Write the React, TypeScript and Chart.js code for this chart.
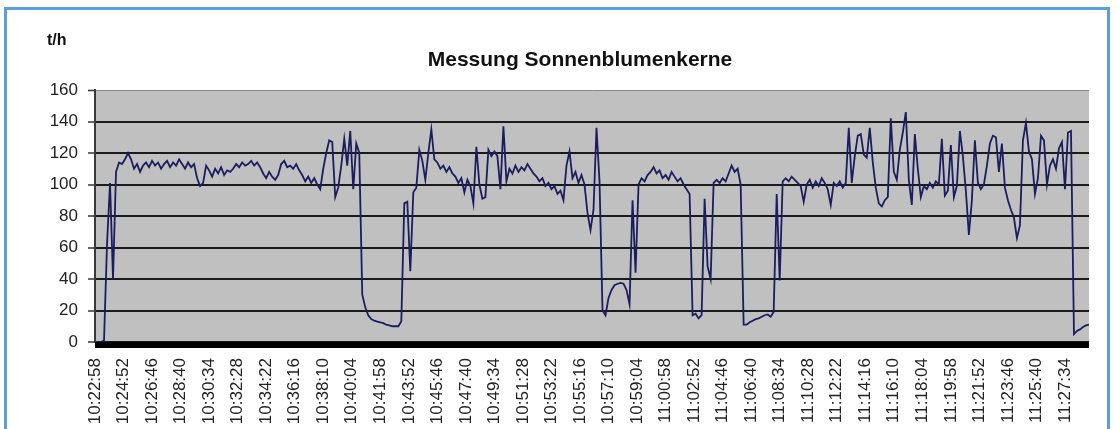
import React, { useEffect, useRef } from "react";
import { Chart, registerables } from "chart.js";

Chart.register(...registerables);

const chartTitle = "Messung Sonnenblumenkerne";
const unitLabel = "t/h";
const startTime = "10:22:58";
const sampleSeconds = 12;

const tickLabels = [
  "10:22:58", "10:24:52", "10:26:46", "10:28:40", "10:30:34", "10:32:28", "10:34:22",
  "10:36:16", "10:38:10", "10:40:04", "10:41:58", "10:43:52", "10:45:46", "10:47:40",
  "10:49:34", "10:51:28", "10:53:22", "10:55:16", "10:57:10", "10:59:04", "11:00:58",
  "11:02:52", "11:04:46", "11:06:40", "11:08:34", "11:10:28", "11:12:22", "11:14:16",
  "11:16:10", "11:18:04", "11:19:58", "11:21:52", "11:23:46", "11:25:40", "11:27:34",
];

const yTicks = [0, 20, 40, 60, 80, 100, 120, 140, 160];

// t/h, one reading every 12 s from 10:22:58
const throughput = [
  0, 0, 0, 1, 62, 101, 40, 108, 114, 113,
  116, 120, 116, 110, 113, 108, 112, 114, 111, 115,
  112, 114, 110, 113, 115, 111, 114, 112, 116, 113,
  110, 114, 111, 113, 104, 99, 101, 112, 109, 105,
  110, 107, 111, 106, 109, 108, 110, 113, 111, 114,
  112, 113, 115, 112, 114, 111, 107, 104, 108, 105,
  103, 106, 113, 115, 111, 112, 110, 113, 109, 106,
  102, 105, 101, 104, 100, 97, 110, 120, 128, 127,
  92, 98, 112, 129, 112, 134, 97, 126, 120, 30,
  22, 17, 14.5, 13.5, 13, 12.5, 12, 11, 10.5, 10,
  10, 10, 13, 88, 89, 45, 95, 98, 122, 115,
  103, 120, 135, 116, 114, 110, 112, 108, 111, 107,
  105, 101, 104, 95, 103, 99, 88, 124, 100, 91,
  92, 122, 118, 121, 118, 97, 137, 102, 110, 107,
  112, 108, 111, 109, 113, 110, 107, 105, 102, 104,
  99, 101, 97, 99, 94, 96, 90, 112, 121, 104,
  108, 101, 106, 100, 82, 71, 84, 136, 102, 20,
  17, 28, 33, 36, 37, 37.5, 37, 33, 24, 90,
  44, 100, 104, 102, 106, 108, 111, 107, 109, 104,
  106, 103, 108, 105, 102, 104, 100, 97, 94, 17,
  18, 15, 17, 91, 48, 40, 101, 103, 101, 104,
  102, 107, 112, 108, 110, 100, 11, 11, 12.5, 13.5,
  14.5, 15, 16, 17, 17.5, 16, 19, 94, 39, 102,
  104, 102, 105, 103, 101, 99, 89, 100, 103, 98,
  102, 99, 104, 101, 97, 87, 101, 99, 102, 98,
  101, 136, 101, 118, 131, 132, 119, 117, 136, 114,
  98, 88, 86, 90, 92, 142, 108, 103, 122, 133,
  146, 103, 87, 132, 110, 92, 99, 97, 101, 98,
  102, 100, 129, 93, 96, 125, 92, 99, 134, 118,
  96, 68, 90, 128, 101, 97, 100, 112, 126, 131,
  130, 108, 126, 98, 90, 84, 79, 66, 74, 128,
  139, 121, 116, 94, 104, 131, 128, 100, 112, 116,
  110, 123, 127, 97, 133, 134, 5, 7, 8, 9.5,
  10.5, 11,
];

const toSeconds = (s: string) => {
  const [h, m, sec] = s.split(":").map(Number);
  return h * 3600 + m * 60 + sec;
};

const FONT = "'Liberation Sans', Arial, sans-serif";

export default function App() {
  const ref = useRef<HTMLCanvasElement | null>(null);

  useEffect(() => {
    if (!ref.current) return;
    const t0 = toSeconds(startTime);
    const tickSeconds = tickLabels.map((l) => toSeconds(l) - t0);
    const points = throughput.map((v, i) => ({ x: i * sampleSeconds, y: v }));
    const xMax = (throughput.length - 1) * sampleSeconds;

    const plotDecor = {
      id: "plotDecor",
      beforeDraw(chart: any) {
        const { ctx, chartArea } = chart;
        ctx.save();
        ctx.fillStyle = "#c0c0c0";
        ctx.fillRect(chartArea.left, chartArea.top, chartArea.right - chartArea.left, chartArea.bottom - chartArea.top);
        ctx.restore();
      },
      afterDraw(chart: any) {
        const { ctx, chartArea } = chart;
        ctx.save();
        ctx.fillStyle = "#000";
        ctx.fillRect(chartArea.left, chartArea.bottom, chartArea.right - chartArea.left, 6);
        ctx.fillStyle = "#111";
        ctx.textBaseline = "alphabetic";
        ctx.font = `bold 16px ${FONT}`;
        ctx.textAlign = "left";
        ctx.fillText(unitLabel, chartArea.left - 48, chartArea.top - 45);
        ctx.font = `bold 21px ${FONT}`;
        ctx.textAlign = "center";
        ctx.fillText(chartTitle, chartArea.left + 485, chartArea.top - 24);
        ctx.restore();
      },
    };

    const chart = new Chart(ref.current, {
      type: "line",
      data: {
        datasets: [
          {
            data: points,
            borderColor: "#1b1d5e",
            borderWidth: 1.8,
            pointRadius: 0,
            tension: 0,
            fill: false,
          },
        ],
      },
      options: {
        responsive: false,
        maintainAspectRatio: false,
        animation: false,
        layout: { padding: { left: 0, right: 29, top: 90, bottom: 0 } },
        plugins: {
          legend: { display: false },
          tooltip: { enabled: false },
          title: { display: false },
        },
        scales: {
          x: {
            type: "linear",
            min: 0,
            max: xMax,
            afterBuildTicks: (scale: any) => {
              scale.ticks = tickSeconds.map((v) => ({ value: v }));
            },
            afterFit: (scale: any) => {
              scale.height = 87;
            },
            grid: { display: false },
            border: { display: false },
            ticks: {
              autoSkip: false,
              maxRotation: 90,
              minRotation: 90,
              padding: 8,
              color: "#222",
              font: { family: FONT, size: 17 },
              callback: (_v: any, idx: number) => tickLabels[idx],
            },
          },
          y: {
            min: 0,
            max: 160,
            afterBuildTicks: (scale: any) => {
              scale.ticks = yTicks.map((v) => ({ value: v }));
            },
            afterFit: (scale: any) => {
              scale.width = 95;
            },
            grid: {
              color: (c: any) => (c.tick && c.tick.value === 160 ? "#8a8a8a" : "#1a1a1a"),
              lineWidth: (c: any) => (c.tick && c.tick.value === 160 ? 1 : 2),
              tickColor: "#333",
              tickLength: 7,
              tickWidth: 1.5,
            },
            border: { color: "#3a3a3a", width: 2 },
            ticks: {
              padding: 10,
              color: "#222",
              font: { family: FONT, size: 17 },
            },
          },
        },
      },
      plugins: [plotDecor],
    } as any);

    return () => chart.destroy();
  }, []);

  return (
    <div>
      <div
        style={{
          position: "fixed",
          left: 4,
          top: 7,
          width: 1106,
          height: 500,
          border: "3px solid #5ba0dc",
          boxSizing: "border-box",
        }}
      />
      <canvas
        ref={ref}
        width={1118}
        height={429}
        style={{ position: "fixed", left: 0, top: 0, width: 1118, height: 429 }}
      />
    </div>
  );
}
